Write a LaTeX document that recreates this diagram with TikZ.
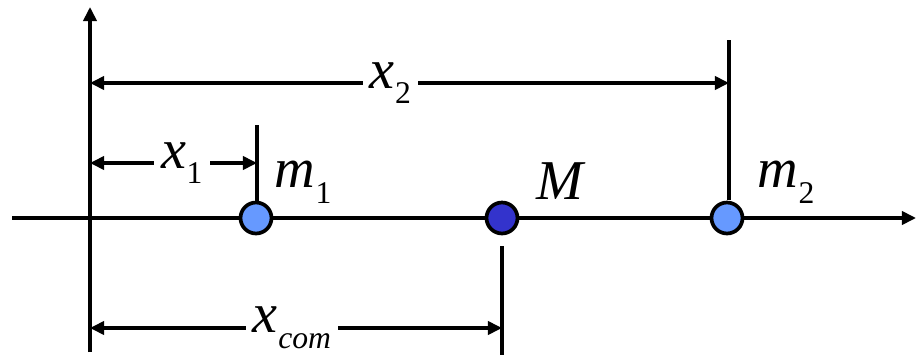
\documentclass[tikz,border=0pt]{standalone}
\usepackage{fontspec}
\setmainfont{Liberation Serif}
\usetikzlibrary{arrows.meta}
\definecolor{masslight}{RGB}{102,153,255}
\definecolor{massdark}{RGB}{51,51,204}
\newcommand{\symb}[2]{\textit{#1}\kern0.01em\raisebox{-0.28em}{\fontsize{18}{18}\selectfont #2}}

\begin{document}
\begin{tikzpicture}[
    x=0.02cm, y=-0.02cm,
    axis/.style={-{Triangle[length=8pt,width=7.5pt]}, line width=1.9pt},
    tick/.style={line width=1.9pt},
    dimline/.style={{Triangle[length=8pt,width=7.5pt]}-{Triangle[length=8pt,width=7.5pt]}, line width=1.9pt},
    dimlabel/.style={fill=white, inner sep=4pt, font=\fontsize{32}{32}\selectfont},
    masslabel/.style={font=\fontsize{32}{32}\selectfont},
    mass/.style={circle, draw, line width=2.1pt, minimum size=0.62cm, inner sep=0pt}
]
\useasboundingbox (0,0) rectangle (917,355);
\coordinate (O) at (90,218);
\coordinate (Xl) at (12,218);
\coordinate (Xr) at (916,218);
\coordinate (Yb) at (90,352);
\coordinate (Yt) at (90,7);
\draw[axis] (Xl) -- (Xr);
\draw[axis] (Yb) -- (Yt);
% ticks
\coordinate (T1a) at (257,125);
\coordinate (T1b) at (257,202);
\coordinate (T2a) at (729,40);
\coordinate (T2b) at (729,200);
\coordinate (TMa) at (502,246);
\coordinate (TMb) at (502,355);
\draw[tick] (T1a) -- (T1b);
\draw[tick] (T2a) -- (T2b);
\draw[tick] (TMa) -- (TMb);
% masses
\node[mass, fill=masslight] (m1) at (256,218) {};
\node[mass, fill=massdark] (M) at (502,218) {};
\node[mass, fill=masslight] (m2) at (727,218) {};
\node[masslabel] (m1lab) at (303,182) {\symb{m}{1}};
\node[masslabel] (Mlab) at (561,181) {\textit{M}};
\node[masslabel] (m2lab) at (786,182) {\symb{m}{2}};
% dimensions
\coordinate (A1) at (90,163);
\coordinate (B1) at (257,163);
\coordinate (A2) at (90,83);
\coordinate (B2) at (729,83);
\coordinate (A3) at (90,328);
\coordinate (B3) at (502,328);
\draw[dimline] (A1) -- (B1) node[dimlabel, pos=0.55] (x1lab) {\symb{x}{1}};
\draw[dimline] (A2) -- (B2) node[dimlabel, pos=0.47] (x2lab) {\symb{x}{2}};
\draw[dimline] (A3) -- (B3) node[dimlabel, pos=0.49] (xclab) {\symb{x}{\textit{com}}};
\end{tikzpicture}
\end{document}
